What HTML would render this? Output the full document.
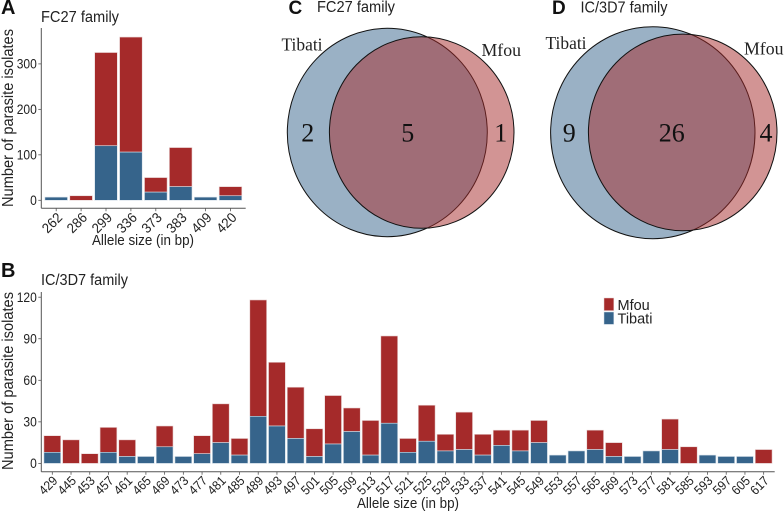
<!DOCTYPE html>
<html>
<head>
<meta charset="utf-8">
<style>
html,body{margin:0;padding:0;background:#fff;}
svg{display:block;}
text{font-family:"Liberation Sans",sans-serif;}
.serif{font-family:"Liberation Serif",serif;}
</style>
</head>
<body>
<svg id="fig" width="784" height="512" viewBox="0 0 784 512" xmlns="http://www.w3.org/2000/svg">
  <g id="panelA">
    <text x="1" y="14" font-size="20" font-weight="bold" fill="#111">A</text>
    <text x="41" y="22" font-size="15.5" textLength="78" lengthAdjust="spacingAndGlyphs" fill="#222">FC27 family</text>
    <text transform="translate(13,118) rotate(-90)" text-anchor="middle" font-size="15.5" textLength="178" lengthAdjust="spacingAndGlyphs" fill="#222">Number of parasite isolates</text>
    <text x="143" y="245" text-anchor="middle" font-size="14.5" textLength="102" lengthAdjust="spacingAndGlyphs" fill="#222">Allele size (in bp)</text>
  </g>
  <g id="panelB">
    <text x="1" y="277" font-size="20" font-weight="bold" fill="#111">B</text>
    <text x="41" y="285" font-size="15.5" textLength="87" lengthAdjust="spacingAndGlyphs" fill="#222">IC/3D7 family</text>
    <text transform="translate(13,381) rotate(-90)" text-anchor="middle" font-size="15.5" textLength="178" lengthAdjust="spacingAndGlyphs" fill="#222">Number of parasite isolates</text>
    <text x="408" y="508" text-anchor="middle" font-size="14.5" textLength="102" lengthAdjust="spacingAndGlyphs" fill="#222">Allele size (in bp)</text>
  </g>
  <g>
    <rect x="604" y="298" width="9.8" height="12.6" fill="#A52A2A" stroke="#e6d0d0" stroke-width="0.5"/>
    <text x="617.5" y="310" font-size="14.5" fill="#222">Mfou</text>
    <rect x="604" y="312" width="9.8" height="12.4" fill="#36648B" stroke="#d0dbe6" stroke-width="0.5"/>
    <text x="617.5" y="323.4" font-size="14.5" fill="#222">Tibati</text>
  </g>
  <g>
    <text x="288.5" y="14" font-size="19" font-weight="bold" fill="#111">C</text>
    <text x="317" y="12" font-size="15.5" textLength="78" lengthAdjust="spacingAndGlyphs" fill="#222">FC27 family</text>
    <ellipse cx="387.3" cy="132.5" rx="100" ry="104.2" fill="#36648B" fill-opacity="0.5" stroke="#111" stroke-width="1"/>
    <ellipse cx="421.7" cy="132.5" rx="92.3" ry="95.8" fill="#A52A2A" fill-opacity="0.5" stroke="#111" stroke-width="1"/>
    <text class="serif" x="281.5" y="50.7" font-size="18" textLength="41" lengthAdjust="spacingAndGlyphs" fill="#222">Tibati</text>
    <text class="serif" x="481.5" y="56" font-size="18" textLength="39.5" lengthAdjust="spacingAndGlyphs" fill="#222">Mfou</text>
    <text class="serif" x="307.7" y="141.5" text-anchor="middle" font-size="26" fill="#111">2</text>
    <text class="serif" x="407.7" y="141.5" text-anchor="middle" font-size="26" fill="#111">5</text>
    <text class="serif" x="500.7" y="141.5" text-anchor="middle" font-size="26" fill="#111">1</text>
  </g>
  <g>
    <text x="552" y="14" font-size="19" font-weight="bold" fill="#111">D</text>
    <text x="580.5" y="12.3" font-size="15.5" textLength="87" lengthAdjust="spacingAndGlyphs" fill="#222">IC/3D7 family</text>
    <ellipse cx="652.8" cy="132.7" rx="102.2" ry="106" fill="#36648B" fill-opacity="0.5" stroke="#111" stroke-width="1"/>
    <ellipse cx="682.7" cy="132.4" rx="94.3" ry="98.3" fill="#A52A2A" fill-opacity="0.5" stroke="#111" stroke-width="1"/>
    <text class="serif" x="545.5" y="49" font-size="18" textLength="41" lengthAdjust="spacingAndGlyphs" fill="#222">Tibati</text>
    <text class="serif" x="744" y="54.7" font-size="18" textLength="39.5" lengthAdjust="spacingAndGlyphs" fill="#222">Mfou</text>
    <text class="serif" x="569.3" y="141.5" text-anchor="middle" font-size="26" fill="#111">9</text>
    <text class="serif" x="671.7" y="141.5" text-anchor="middle" font-size="26" fill="#111">26</text>
    <text class="serif" x="766" y="141.5" text-anchor="middle" font-size="26" fill="#111">4</text>
  </g>
</svg>
<script>
const allelesA = ['262','286','299','336','373','383','409','420'];
const tibatiA = [7,0,120,106,18,30,7,10];
const mfouA = [0,10,205,253,32,86,0,20];
const ticksA = [0,100,200,300];

const allelesB = ['429','445','453','457','461','465','469','473','477','481','485','489','493','497','501','505','509','513','517','521','525','529','533','537','541','545','549','553','557','565','569','573','577','581','585','593','597','605','617'];
const tibatiB = [8,0,0,8,5,5,12,5,7,15,6,34,27,18,5,14,23,6,29,8,16,9,10,6,13,9,15,6,9,10,5,5,9,10,0,6,5,5,0];
const mfouB = [12,17,7,18,12,0,15,0,13,28,12,84,46,37,20,35,17,25,63,10,26,12,27,15,11,15,16,0,0,14,10,0,0,22,12,0,0,0,10];
const ticksB = [0,30,60,90,120];

const NS = 'http://www.w3.org/2000/svg';

function make(parent, tag, attrs) {
  const el = document.createElementNS(NS, tag);
  for (const k in attrs) el.setAttribute(k, attrs[k]);
  parent.appendChild(el);
  return el;
}

function drawBars(parent, cfg, cats, tib, mf, ticks) {
  const yScale = v => cfg.y0 - v * cfg.pxPerUnit;
  const xScale = i => cfg.x0 + i * cfg.step;
  const axisColor = '#555';

  cats.forEach((c, i) => {
    const cx = xScale(i);
    const left = cx - cfg.barW / 2;
    if (mf[i] > 0) {
      const r = make(parent, 'rect', {x:left, y:yScale(tib[i] + mf[i]), width:cfg.barW, height:mf[i] * cfg.pxPerUnit, fill:'#A52A2A', stroke:'#e8d4d4', 'stroke-width':0.6});
      
      
    }
    if (tib[i] > 0) {
      const r = make(parent, 'rect', {x:left, y:yScale(tib[i]), width:cfg.barW, height:tib[i] * cfg.pxPerUnit, fill:'#36648B', stroke:'#d4dfe8', 'stroke-width':0.6});
      
      
    }
    const tick = make(parent, 'line', {x1:cx, x2:cx, y1:cfg.axisY, y2:cfg.axisY + 3, stroke:axisColor, 'stroke-width':0.8});
    
    
    const ax = cx + cfg.labelDx;
    const t = make(parent, 'text', {transform:'translate(' + ax + ',' + cfg.labelY + ') rotate(-45)', 'text-anchor':'end', 'font-size':cfg.tickFont, textLength:cfg.tickLen, lengthAdjust:'spacingAndGlyphs', fill:'#222'});
    t.textContent = c;
    
    
  });

  ticks.forEach(v => {
    const y = yScale(v);
    const tick = make(parent, 'line', {x1:cfg.axisX - 3, x2:cfg.axisX, y1:y, y2:y, stroke:axisColor, 'stroke-width':0.8});
    
    
    const t = make(parent, 'text', {x:cfg.axisX - 4.5, y:y + 4.8, 'text-anchor':'end', 'font-size':cfg.yTickFont, textLength:String(v).length * 6.7, lengthAdjust:'spacingAndGlyphs', fill:'#222'});
    t.textContent = v;
    
    
  });

  const ya = make(parent, 'line', {x1:cfg.axisX, x2:cfg.axisX, y1:cfg.axisTop, y2:cfg.axisY, stroke:axisColor, 'stroke-width':1});
  
  
  const xa = make(parent, 'line', {x1:cfg.axisX, x2:cfg.axisRight, y1:cfg.axisY, y2:cfg.axisY, stroke:axisColor, 'stroke-width':1});
  
  
}

drawBars(document.getElementById('panelA'),
  {x0:56.2, step:24.9, barW:22.6, y0:200.3, pxPerUnit:0.4547, axisX:41.3, axisY:208.2, axisTop:28, axisRight:245.7, labelDx:7, labelY:218.5, tickFont:14, tickLen:22, yTickFont:13.5},
  allelesA, tibatiA, mfouA, ticksA);

drawBars(document.getElementById('panelB'),
  {x0:52.3, step:18.72, barW:16.8, y0:463.4, pxPerUnit:1.385, axisX:41.3, axisY:471.7, axisTop:292, axisRight:774.7, labelDx:6, labelY:481.5, tickFont:13, tickLen:20, yTickFont:13.5},
  allelesB, tibatiB, mfouB, ticksB);
</script>
</body>
</html>
